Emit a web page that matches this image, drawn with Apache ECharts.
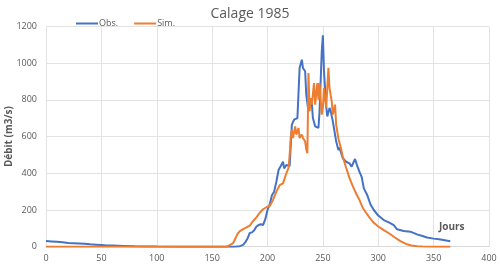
<!DOCTYPE html>
<html>
<head>
<meta charset="utf-8">
<script src="https://cdn.jsdelivr.net/npm/echarts@6/dist/echarts.min.js"></script>
<style>html,body{margin:0;padding:0;background:#fff}#c{width:500px;height:267px}</style>
</head>
<body>
<div id="c"></div>
<script>
const chartTitle = 'Calage 1985';
const seriesNames = ['Obs.', 'Sim.'];
const xTicks = [0, 50, 100, 150, 200, 250, 300, 350, 400];
const yTicks = [0, 200, 400, 600, 800, 1000, 1200];

const obsDays = [0,5,10,15,20,25,30,35,40,45,50,55,60,70,80,90,100,120,140,160,170,172,175,178,180,182,184,186,188,190,192,194,196,198,200,202,204,206,208,210,211,212,214,215,217,218,220,222,224,227,229,231,232,234,235,237,238,240,241,243,246,247,249,250,251,253,254,256,257,259,260,262,264,265,268,271,274,276,279,280,281,283,285,287,290,293,296,300,305,310,314,317,323,329,335,340,344,350,355,360,365];
const obsValues = [31,29,27,24,20,19,18,16,13,11,9,7,6,4,2,1,0.5,0,0,0,0,1,3,10,25,45,75,78,90,110,118,122,118,150,200,230,280,300,354,418,409,440,463,427,445,450,440,665,692,701,974,1019,974,956,828,738,801,783,701,656,647,738,1065,1152,956,765,710,756,740,683,647,574,527,540,482,463,454,436,478,460,440,409,381,318,282,230,200,170,145,131,118,95,86,82,67,58,50,44,40,35,30];

const simDays = [0,50,100,150,163,165,167,169,171,173,175,178,181,184,187,190,193,196,199,202,205,208,211,214,217,219,220,221,222,223,225,226,228,229,231,232,234,235,236,237,238,239,240,242,243,245,246,247,249,250,251,253,255,256,258,259,261,262,264,266,268,271,274,277,280,283,286,289,292,296,300,305,310,315,320,325,330,335,340,350,365];
const simValues = [0,0,0,0,0,5,13,20,45,70,85,96,105,115,140,160,185,204,215,222,255,300,335,345,400,430,500,600,638,592,656,611,647,592,611,592,574,530,509,947,738,810,774,892,774,892,801,892,720,756,865,756,975,865,792,720,774,665,590,545,490,430,375,330,290,255,212,185,160,130,110,90,72,50,30,15,7,3,1,0,0];

const obs = obsDays.map((d, i) => [d, obsValues[i]]);
const sim = simDays.map((d, i) => [d, simValues[i]]);

const chart = echarts.init(document.getElementById('c'));
const txt = '#595959';
chart.setOption({
  animation: false,
  title: {
    text: chartTitle, left: 'center', top: 2,
    textStyle: { fontFamily: 'Open Sans', fontSize: 14, fontWeight: 'normal', color: txt }
  },
  legend: {
    data: seriesNames, left: 71, top: 14, itemWidth: 22, itemHeight: 2, itemGap: 16,
    icon: 'rect',
    textStyle: { fontFamily: 'Open Sans', fontSize: 9, color: txt, padding: [0, 0, 0, -4] }
  },
  grid: { left: 46, right: 11, top: 26.5, bottom: 20.3, containLabel: false, outerBoundsMode: 'none' },
  xAxis: {
    type: 'value', min: xTicks[0], max: xTicks[xTicks.length - 1], interval: 50,
    axisLine: { show: true, lineStyle: { color: '#d9d9d9' } },
    axisTick: { show: false },
    axisLabel: { color: txt, fontSize: 9, fontFamily: 'Open Sans', margin: 7, formatter: v => String(v) },
    splitLine: { show: true, lineStyle: { color: '#e3e3e3', width: 1 } }
  },
  yAxis: {
    type: 'value', min: yTicks[0], max: yTicks[yTicks.length - 1], interval: 200,
    name: 'Débit (m3/s)', nameLocation: 'middle', nameGap: 32, nameMoveOverlap: false,
    nameTextStyle: { color: txt, fontSize: 10, fontWeight: 'bold', fontFamily: 'Open Sans' },
    axisLine: { show: false }, axisTick: { show: false },
    axisLabel: { color: txt, fontSize: 9, fontFamily: 'Open Sans', margin: 9, formatter: v => String(v) },
    splitLine: { show: true, lineStyle: { color: '#e3e3e3', width: 1 } }
  },
  graphic: [{
    type: 'text', left: 439, top: 222,
    style: { text: 'Jours', fill: txt, font: 'bold 10px "Open Sans"' }
  }],
  series: [
    { name: seriesNames[0], type: 'line', data: obs, showSymbol: false, symbol: 'none',
      lineStyle: { color: '#4472C4', width: 2 }, itemStyle: { color: '#4472C4' }, z: 2 },
    { name: seriesNames[1], type: 'line', data: sim, showSymbol: false, symbol: 'none',
      lineStyle: { color: '#ED7D31', width: 2 }, itemStyle: { color: '#ED7D31' }, z: 3 }
  ]
});
</script>
</body>
</html>
